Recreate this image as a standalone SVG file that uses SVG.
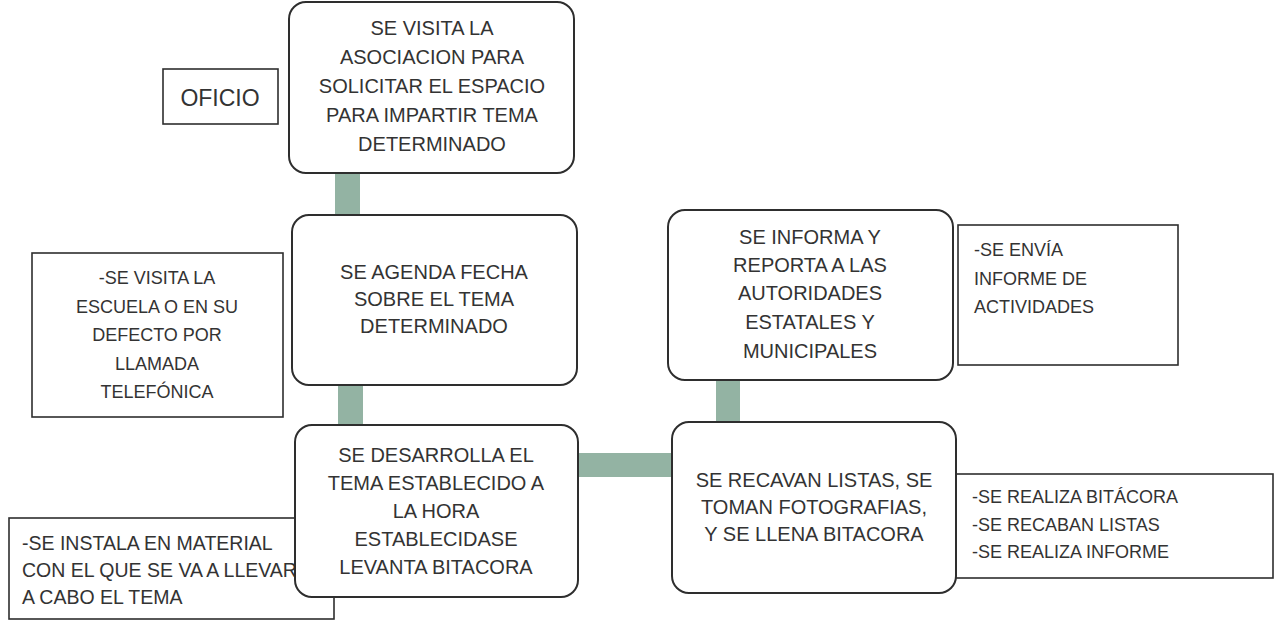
<svg xmlns="http://www.w3.org/2000/svg" width="1276" height="620" viewBox="0 0 1276 620">
<style>
.node{fill:#fff;stroke:#2e2e2e;stroke-width:2}
.note{fill:#fff;stroke:#2e2e2e;stroke-width:1.6}
.conn{fill:#93b3a3}
text{font-family:"Liberation Sans",Arial,sans-serif;fill:#333}
.t{font-size:20px;text-anchor:middle}
.s{font-size:18px}
.sc{font-size:18px;text-anchor:middle}
</style>
<rect width="1276" height="620" fill="#fff"/>
<g id="connectors">
<rect class="conn" x="335" y="172" width="25" height="44"/>
<rect class="conn" x="338" y="383" width="25" height="44"/>
<rect class="conn" x="576" y="453" width="97" height="24"/>
<rect class="conn" x="716" y="378" width="24" height="46"/>
</g>
<g id="note-oficio">
<rect class="note" x="163" y="69" width="115" height="55"/>
<text x="220" y="106" style="font-size:23px;text-anchor:middle">OFICIO</text>
</g>
<g id="note-escuela">
<rect class="note" x="32" y="253" width="251" height="164"/>
<text class="sc" x="157"><tspan x="157" y="284">-SE VISITA LA</tspan><tspan x="157" y="313">ESCUELA O EN SU</tspan><tspan x="157" y="341">DEFECTO POR</tspan><tspan x="157" y="370">LLAMADA</tspan><tspan x="157" y="398">TELEFÓNICA</tspan></text>
</g>
<g id="note-material">
<rect class="note" x="9" y="518" width="325" height="101"/>
<text style="font-size:19.5px"><tspan x="22" y="550">-SE INSTALA EN MATERIAL</tspan><tspan x="22" y="577">CON EL QUE SE VA A LLEVAR</tspan><tspan x="22" y="604">A CABO EL TEMA</tspan></text>
</g>
<g id="note-envia">
<rect class="note" x="958" y="225" width="220" height="140"/>
<text class="s"><tspan x="974" y="256">-SE ENVÍA</tspan><tspan x="974" y="285">INFORME DE</tspan><tspan x="974" y="313">ACTIVIDADES</tspan></text>
</g>
<g id="note-bitacora">
<rect class="note" x="955" y="474" width="318" height="104"/>
<text class="s"><tspan x="972" y="503">-SE REALIZA BITÁCORA</tspan><tspan x="972" y="531">-SE RECABAN LISTAS</tspan><tspan x="972" y="558">-SE REALIZA INFORME</tspan></text>
</g>
<g id="node-visita">
<rect class="node" x="289" y="2" width="285" height="171" rx="17"/>
<text class="t"><tspan x="432" y="35">SE VISITA LA</tspan><tspan x="432" y="64">ASOCIACION PARA</tspan><tspan x="432" y="93">SOLICITAR EL ESPACIO</tspan><tspan x="432" y="122">PARA IMPARTIR TEMA</tspan><tspan x="432" y="151">DETERMINADO</tspan></text>
</g>
<g id="node-agenda">
<rect class="node" x="292" y="215" width="285" height="170" rx="17"/>
<text class="t"><tspan x="434" y="279">SE AGENDA FECHA</tspan><tspan x="434" y="306">SOBRE EL TEMA</tspan><tspan x="434" y="333">DETERMINADO</tspan></text>
</g>
<g id="node-desarrolla">
<rect class="node" x="295" y="425" width="283" height="172" rx="17"/>
<text class="t"><tspan x="436" y="462">SE DESARROLLA EL</tspan><tspan x="436" y="490">TEMA ESTABLECIDO A</tspan><tspan x="436" y="518">LA HORA</tspan><tspan x="436" y="546">ESTABLECIDASE</tspan><tspan x="436" y="574">LEVANTA BITACORA</tspan></text>
</g>
<g id="node-recavan">
<rect class="node" x="672" y="422" width="284" height="171" rx="17"/>
<text class="t"><tspan x="814" y="487">SE RECAVAN LISTAS, SE</tspan><tspan x="814" y="514">TOMAN FOTOGRAFIAS,</tspan><tspan x="814" y="541">Y SE LLENA BITACORA</tspan></text>
</g>
<g id="node-informa">
<rect class="node" x="668" y="210" width="285" height="170" rx="17"/>
<text class="t"><tspan x="810" y="244">SE INFORMA Y</tspan><tspan x="810" y="272">REPORTA A LAS</tspan><tspan x="810" y="300">AUTORIDADES</tspan><tspan x="810" y="329">ESTATALES Y</tspan><tspan x="810" y="358">MUNICIPALES</tspan></text>
</g>
</svg>
